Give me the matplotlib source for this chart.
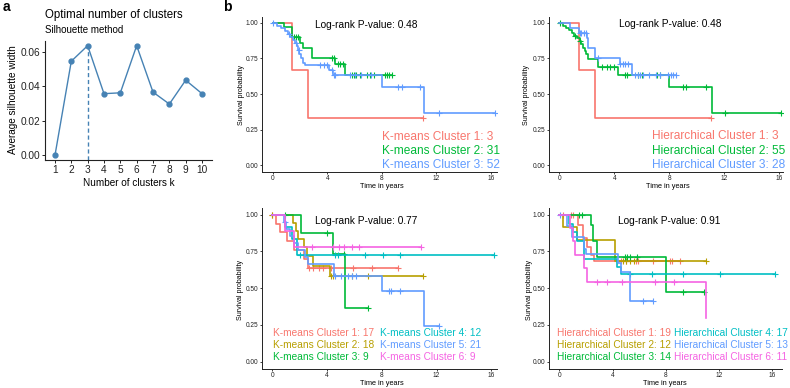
import numpy as np
import matplotlib
matplotlib.use("Agg")
import matplotlib.pyplot as plt

plt.rcParams['font.family'] = ['Liberation Sans', 'DejaVu Sans']

W, H = 790, 388

# ---- panel a : silhouette ----
k_values = [1, 2, 3, 4, 5, 6, 7, 8, 9, 10]
sil_width = [0.0, 0.0545, 0.0635, 0.0357, 0.0362, 0.0635, 0.0366, 0.0297, 0.0435, 0.0357]
best_k = 3

# ---- panel b : Kaplan-Meier curves (event times, survival after event, censor times) ----
pal3 = ['#F8766D', '#00BA38', '#619CFF']
pal6 = ['#F8766D', '#B79F00', '#00BA38', '#00BFC4', '#619CFF', '#F564E3']

km3_times = [[1.4, 2.6],
             [0.83, 1.4, 2.0, 2.2, 2.87, 4.6, 5.3],
             [0.35, 0.6, 0.9, 1.1, 1.3, 1.5, 1.6, 1.75, 1.85, 1.95, 2.05, 2.2, 2.4, 4.1, 4.4, 8.0, 11.1]]
km3_surv = [[0.667, 0.333],
            [0.967, 0.90, 0.86, 0.82, 0.75, 0.71, 0.63],
            [0.98, 0.96, 0.94, 0.92, 0.90, 0.88, 0.86, 0.84, 0.81, 0.78, 0.75, 0.72, 0.70, 0.665, 0.63, 0.55, 0.37]]
km3_cens = [[11.0],
            [1.55, 1.7, 1.85, 4.35, 4.5, 4.75, 4.95, 5.15, 5.8, 5.95, 6.1, 6.4, 6.9, 7.1, 7.4, 8.2, 8.35, 8.5, 8.75],
            [0.05, 1.2, 1.7, 1.9, 3.5, 3.75, 4.0, 4.35, 4.5, 4.6, 5.7, 6.0, 6.5, 7.2, 9.2, 9.5, 10.8, 12.2, 16.3]]
km3_labels = ['K-means Cluster 1: 3', 'K-means Cluster 2: 31', 'K-means Cluster 3: 52']

hc3_times = [[1.4, 2.6],
             [0.3, 0.5, 0.7, 0.9, 1.1, 1.3, 1.5, 1.6, 1.75, 1.85, 1.95, 2.1, 2.8, 4.3, 8.0, 11.1],
             [0.8, 1.4, 2.0, 2.1, 2.6, 4.4, 5.3]]
hc3_surv = [[0.667, 0.333],
            [0.98, 0.965, 0.95, 0.93, 0.91, 0.89, 0.87, 0.85, 0.82, 0.80, 0.78, 0.745, 0.69, 0.63, 0.55, 0.37],
            [0.964, 0.93, 0.89, 0.82, 0.75, 0.71, 0.63]]
hc3_cens = [[11.0],
            [0.05, 1.15, 1.5, 3.1, 3.45, 3.7, 3.95, 4.8, 4.9, 5.75, 6.0, 7.1, 7.3, 9.0, 9.25, 10.7, 12.05, 16.1],
            [1.5, 1.6, 1.8, 1.95, 2.8, 4.45, 4.6, 4.8, 5.0, 5.5, 5.7, 5.9, 6.1, 6.5, 7.0, 7.3, 7.9, 8.1, 8.3, 8.5]]
hc3_labels = ['Hierarchical Cluster 1: 3', 'Hierarchical Cluster 2: 55', 'Hierarchical Cluster 3: 28']

km6_times = [[0.3, 0.55, 1.1, 1.6, 2.3, 2.6],
             [1.5, 1.7, 1.9, 2.3, 2.5, 3.0, 4.2],
             [2.1, 4.45, 5.3],
             [0.9, 1.4, 1.8],
             [0.85, 1.0, 1.3, 1.6, 1.9, 2.4, 2.6, 4.5, 8.0, 11.05],
             [0.95, 1.6]]
km6_surv = [[0.94, 0.88, 0.82, 0.76, 0.70, 0.64],
            [0.944, 0.889, 0.833, 0.778, 0.72, 0.65, 0.58],
            [0.875, 0.73, 0.365],
            [0.917, 0.833, 0.727],
            [0.952, 0.905, 0.857, 0.81, 0.762, 0.714, 0.667, 0.58, 0.48, 0.24],
            [0.889, 0.778]]
km6_cens = [[0.0, 2.7, 3.0, 3.4, 3.7, 4.3, 5.9, 7.3, 9.2],
            [0.0, 4.25, 4.45, 5.8, 7.0, 11.0],
            [0.9, 4.0, 5.2, 7.0],
            [2.0, 4.6, 4.8, 6.8, 8.1, 9.3, 16.2],
            [0.9, 4.6, 5.0, 5.5, 5.8, 6.1, 8.5, 8.7, 9.3, 12.2],
            [2.9, 4.45, 4.9, 5.2, 5.85, 6.3, 10.9]]
km6_labels = ['K-means Cluster 1: 17', 'K-means Cluster 2: 18', 'K-means Cluster 3: 9',
              'K-means Cluster 4: 12', 'K-means Cluster 5: 21', 'K-means Cluster 6: 9']

hc6_times = [[1.4, 1.8, 2.05, 2.4, 2.6],
             [0.3, 1.3, 4.2],
             [2.4, 2.55, 2.85, 8.0],
             [0.7, 1.05, 1.3, 1.85, 4.3, 4.6],
             [0.55, 0.95, 1.85, 2.0, 4.4, 4.6, 5.3],
             [0.8, 1.05, 1.2, 1.85, 2.1, 11.05]]
hc6_surv = [[0.93, 0.84, 0.78, 0.727, 0.686],
            [0.917, 0.825, 0.688],
            [0.93, 0.82, 0.715, 0.477],
            [0.94, 0.88, 0.82, 0.70, 0.645, 0.60],
            [0.923, 0.846, 0.77, 0.73, 0.67, 0.61, 0.41],
            [0.909, 0.818, 0.727, 0.636, 0.545, 0.295]]
hc6_cens = [[0.3, 0.85, 1.0, 4.3, 4.6, 5.0, 5.75, 5.9, 7.0, 8.3, 8.45, 9.1],
            [4.8, 5.0, 5.3, 5.6, 11.0],
            [1.45, 1.7, 4.9, 5.1, 5.3, 5.8, 9.3, 10.85],
            [5.3, 6.95, 9.3, 12.1, 16.2],
            [0.05, 6.3, 7.05],
            [2.8, 3.6, 4.7, 7.2, 8.6]]
hc6_labels = ['Hierarchical Cluster 1: 19', 'Hierarchical Cluster 2: 12', 'Hierarchical Cluster 3: 14',
              'Hierarchical Cluster 4: 17', 'Hierarchical Cluster 5: 13', 'Hierarchical Cluster 6: 11']

pvals = [0.48, 0.48, 0.77, 0.91]


def box(l, t, r, b):
    return [l / W, 1 - b / H, (r - l) / W, (b - t) / H]


def ftext(x, y, s, **kw):
    kw.setdefault('va', 'center')
    fig.text(x / W, 1 - y / H, s, **kw)


def style_axes(ax, lw=0.7):
    for side in ['top', 'right']:
        ax.spines[side].set_visible(False)
    for side in ['left', 'bottom']:
        ax.spines[side].set_linewidth(lw)
        ax.spines[side].set_color('#222222')


fig = plt.figure(figsize=(W / 100, H / 100), dpi=100)

# ---------- panel a ----------
ax = fig.add_axes(box(45, 41, 212, 160))
style_axes(ax, 0.8)
ax.plot(k_values, sil_width, color='steelblue', lw=1.0, marker='o', ms=3.5, zorder=3)
ax.vlines(best_k, -0.0027, sil_width[k_values.index(best_k)], colors='steelblue',
          linestyles=(0, (3, 2)), lw=1.0)
ax.set_xlim(0.39, 10.61)
ax.set_ylim(-0.0027, 0.0662)
ax.set_xticks(k_values)
ax.set_yticks([0, 0.02, 0.04, 0.06])
ax.set_yticklabels(['0.00', '0.02', '0.04', '0.06'])
ax.tick_params(labelsize=7.3, length=2.5, width=0.7, pad=1.2, colors='#222222')
ftext(45, 15, 'Optimal number of clusters', fontsize=8.3, ha='left')
ftext(45, 30, 'Silhouette method', fontsize=7.0, ha='left')
ftext(13.5, 100, 'Average silhouette width', fontsize=7.2, ha='center', rotation=90)
ftext(129, 182.5, 'Number of clusters k', fontsize=7.2, ha='center')
ftext(6, 7, 'a', fontsize=10, fontweight='bold', ha='center')
ftext(227, 7, 'b', fontsize=10, fontweight='bold', ha='center')


# ---------- panel b ----------
def km_panel(rect, xlim, ylim, times, surv, cens, colors, labels, pval, pxy,
             ylab_xy, xlab_xy, leg_x, leg_y, leg_fs):
    ax = fig.add_axes(rect)
    style_axes(ax, 0.7)
    for t, s, c, col in zip(times, surv, cens, colors):
        x = np.r_[0.0, t]
        y = np.r_[1.0, s]
        if len(c) and max(c) > x[-1]:
            x = np.r_[x, max(c)]
            y = np.r_[y, y[-1]]
        ax.plot(x, y, drawstyle='steps-post', color=col, lw=1.2)
        c = np.asarray(c, dtype=float)
        idx = np.searchsorted(np.r_[0.0, t], c, side='right') - 1
        cy = np.r_[1.0, s][idx]
        ax.plot(c, cy, '+', color=col, ms=5, mew=0.8, ls='none')
    ax.set_xlim(*xlim)
    ax.set_ylim(*ylim)
    ax.set_xticks([0, 4, 8, 12, 16])
    ax.set_yticks([0, 0.25, 0.5, 0.75, 1.0])
    ax.set_yticklabels(['0.00', '0.25', '0.50', '0.75', '1.00'])
    ax.tick_params(labelsize=4.7, length=1.5, width=0.6, pad=1.0, colors='#222222')
    ftext(pxy[0], pxy[1], 'Log-rank P-value: %.2f' % pval, fontsize=7.3, ha='center')
    ftext(ylab_xy[0], ylab_xy[1], 'Survival probability', fontsize=5.1, ha='center', rotation=90)
    ftext(xlab_xy[0], xlab_xy[1], 'Time in years', fontsize=5.3, ha='center')
    nrow = len(leg_y)
    for i, (lab, col) in enumerate(zip(labels, colors)):
        ftext(leg_x[i // nrow], leg_y[i % nrow], lab, fontsize=leg_fs, color=col, ha='left')


km_panel(box(262, 17, 497, 172), (-0.785, 16.44), (-0.047, 1.04),
         km3_times, km3_surv, km3_cens, pal3, km3_labels, pvals[0], (366.7, 25),
         (241.7, 95), (382, 186.5), [381.7], [136.7, 151, 165.3], 8.6)
km_panel(box(549, 17, 783, 172), (-0.75, 16.27), (-0.047, 1.04),
         hc3_times, hc3_surv, hc3_cens, pal3, hc3_labels, pvals[1], (670, 24),
         (526.7, 95), (668, 186.5), [651.7], [136.3, 150.7, 165], 8.6)
km_panel(box(262, 208, 497, 369), (-0.76, 16.42), (-0.05, 1.046),
         km6_times, km6_surv, km6_cens, pal6, km6_labels, pvals[2], (366, 220.7),
         (240, 290), (381.7, 383.5), [272.7, 380], [333.3, 345, 356.7], 7.3)
km_panel(box(549, 208, 782, 369), (-0.77, 16.72), (-0.05, 1.046),
         hc6_times, hc6_surv, hc6_cens, pal6, hc6_labels, pvals[3], (669, 220.7),
         (529.3, 290), (665, 383.5), [556.7, 674], [333.3, 345, 356.7], 7.3)

fig.savefig('out.png', dpi=100)
